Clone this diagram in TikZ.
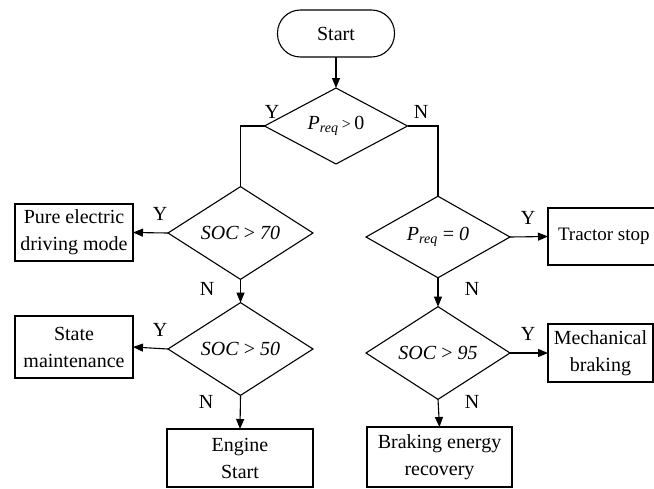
\documentclass[tikz,border=0pt]{standalone}
\usepackage{fontspec}
\setmainfont{Liberation Serif}
\usetikzlibrary{shapes.geometric,arrows.meta}
\begin{document}
\begin{tikzpicture}[x=1pt,y=-1pt,
  font=\fontsize{20}{27}\selectfont,
  every node/.style={inner sep=0pt, outer sep=0pt},
  ln/.style={line width=1.1pt},
  arr/.style={ln,-{Triangle[length=10pt,width=8pt]}},
  box/.style={draw,line width=1.1pt,rectangle,minimum width=118pt,minimum height=57pt,align=center},
  dia/.style={draw,line width=1.1pt,diamond,minimum width=145pt,minimum height=70pt},
  lab/.style={font=\fontsize{20}{22}\selectfont}]
\useasboundingbox (0,0) rectangle (654,488);
\node[draw,line width=1.1pt,rounded corners=23pt,minimum width=117pt,minimum height=47pt] (start) at (336,33.5) {Start};
\node[dia,minimum width=143pt,minimum height=72pt] (d1) at (336,126) {\textit{P}\textsubscript{\textit{req}}\,{\fontsize{16}{16}\selectfont>}\,0};
\node[dia] (d2) at (240.5,233) {\textit{SOC} > \textit{70}};
\node[dia] (d4) at (240.5,349) {\textit{SOC} > \textit{50}};
\node[dia,minimum width=144pt] (d3) at (438,237) {\textit{P}\textsubscript{\textit{req}} = \textit{0}};
\node[dia,minimum width=144pt] (d5) at (438,353) {\textit{SOC} > \textit{95}};
\node[box] (pe) at (74,232.5) {Pure electric\\driving mode};
\node[box,minimum height=62pt] (sm) at (74,347) {State\\maintenance};
\node[box,minimum width=146pt,minimum height=58pt] (es) at (240,458) {Engine\\Start};
\node[box,minimum width=145pt,minimum height=60pt] (ber) at (439.5,457) {Braking energy\\recovery};
\node[box,minimum width=112pt,minimum height=57pt] (ts) at (604,236.5) {};
\node[anchor=west,font=\fontsize{19}{22}\selectfont] (tst) at (558,236.5) {Tractor stop};
\node[box,minimum width=105pt,minimum height=58pt] (mb) at (600.5,353) {Mechanical\\braking};
\draw[arr] (start) -- (d1);
\draw[ln] (d1.west) -| (d2.north);
\draw[ln] (d1.east) -| (d3.north);
\draw[arr] (d2.west) -- (pe.east);
\draw[arr] (d2.south) -- (d4.north);
\draw[arr] (d4.west) -- (sm.east);
\draw[arr] (d4.south) -- (es.north);
\draw[arr] (d3.east) -- (ts.west);
\draw[arr] (d3.south) -- (d5.north);
\draw[arr] (d5.east) -- (mb.west);
\draw[arr] (d5.south) -- (ber.north);
\node[lab] (y1) at (272,112) {Y};
\node[lab] (n1) at (421,112) {N};
\node[lab] (y2) at (160,214) {Y};
\node[lab] (n2) at (207,289) {N};
\node[lab] (y4) at (160,330) {Y};
\node[lab] (n4) at (206,402) {N};
\node[lab] (y3) at (528,218) {Y};
\node[lab] (n3) at (472,289) {N};
\node[lab] (y5) at (528,334) {Y};
\node[lab] (n5) at (472,402) {N};
\end{tikzpicture}
\end{document}
